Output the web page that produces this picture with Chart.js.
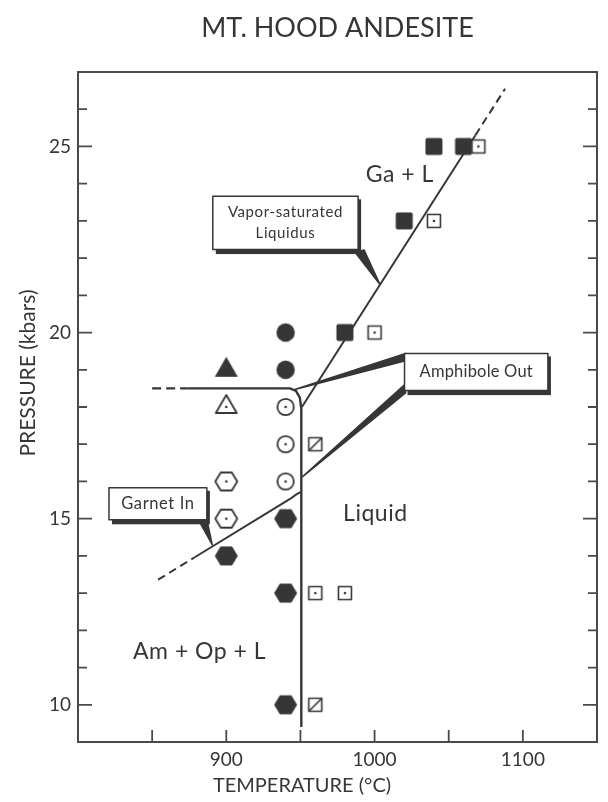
<!DOCTYPE html>
<html>
<head>
<meta charset="utf-8">
<script src="https://cdn.jsdelivr.net/npm/chart.js@4.4.0/dist/chart.umd.min.js"></script>
<style>
  html, body { margin: 0; padding: 0; background: #fff; }
</style>
</head>
<body>
<canvas id="myChart" width="608" height="802"></canvas>
<script>
// 軸の目盛り
const tempLabels = [900, 1000, 1100];
const pressureLabels = [10, 15, 20, 25];

// 実験点 [温度 °C, 圧力 kbar]
const fullCircle = [[940, 20], [940, 19]];
const fullTriangle = [[900, 19]];
const openTriangle = [[900, 18]];
const openCircle = [[940, 18], [940, 17], [940, 16]];
const openHexagon = [[900, 16], [900, 15]];
const fullHexagon = [[900, 14], [940, 15], [940, 13], [940, 10]];
const fullSquare = [[980, 20], [1020, 23], [1040, 25], [1060, 25]];
const openSquare = [[1000, 20], [1040, 23], [1070, 25], [960, 13], [980, 13]];
const slashSquare = [[960, 17], [960, 10]];

// 相境界線
const liquidusSolid = [[951, 18.0], [1068, 25.3]];
const liquidusDashed = [[1068, 25.3], [1088, 26.55]];
const amphiboleDashed = [[850, 18.5], [874, 18.5]];
const amphiboleSolid = [[874, 18.5], [943, 18.5], [947, 18.43], [949.6, 18.25], [950.6, 17.95], [950.6, 9.4]];
const garnetDashed = [[854, 13.36], [879, 13.97]];
const garnetSolid = [[879, 13.97], [943, 15.53], [947.5, 15.66], [950.6, 15.72]];

const INK = "#363636";
const FONT = "Lato, 'Open Sans', sans-serif";

// 領域ラベル
const regionLabels = [
  { text: "Ga + L", t: 1017, p: 24.25 },
  { text: "Liquid", t: 1000.5, p: 15.13 },
  { text: "Am + Op + L", t: 882, p: 11.42 },
];

// 吹き出し（データ座標）
const callouts = [
  {
    lines: ["Vapor-saturated", "Liquidus"], size: 15, spacing: 0.6,
    box: [890.9, 988.9, 23.66, 22.23],
    pointers: [{ base: [[987, 22.15], [992.9, 22.22]], tip: [1003.5, 21.3] }],
  },
  {
    lines: ["Garnet In"], size: 16.5, spacing: 0.6,
    box: [820.9, 886.9, 15.83, 14.97],
    pointers: [{ base: [[881.5, 14.95], [886.9, 14.98]], tip: [890.5, 14.3] }],
  },
  {
    lines: ["Amphibole Out"], size: 16.5, spacing: 0.2,
    box: [1020.2, 1116.9, 19.44, 18.44],
    pointers: [
      { base: [[1020.9, 19.44], [1020.9, 19.24]], tip: [946.2, 18.47] },
      { base: [[1020.9, 18.62], [1020.9, 18.38]], tip: [951.5, 16.13] },
    ],
  },
];

function toXY(list) {
  return list.map(([x, y]) => ({ x: x, y: y }));
}

// マーカー画像を作る
function marker(kind) {
  const c = document.createElement("canvas");
  c.width = 30;
  c.height = 30;
  const g = c.getContext("2d");
  const m = 15;
  g.fillStyle = INK;
  g.strokeStyle = INK;
  g.lineWidth = 1.8;
  g.lineJoin = "round";
  const dot = () => {
    g.fillStyle = INK;
    g.beginPath();
    g.arc(m, m, 1.3, 0, Math.PI * 2);
    g.fill();
  };
  const hex = (w, h) => {
    g.beginPath();
    g.moveTo(m - w / 2, m);
    g.lineTo(m - w / 4, m - h / 2);
    g.lineTo(m + w / 4, m - h / 2);
    g.lineTo(m + w / 2, m);
    g.lineTo(m + w / 4, m + h / 2);
    g.lineTo(m - w / 4, m + h / 2);
    g.closePath();
  };
  const openFill = () => {
    g.fillStyle = "#fff";
    g.fill();
    g.stroke();
  };
  switch (kind) {
    case "disc":
      g.beginPath();
      g.arc(m, m, 9.2, 0, Math.PI * 2);
      g.fill();
      break;
    case "ring":
      g.beginPath();
      g.arc(m, m, 8.2, 0, Math.PI * 2);
      openFill();
      dot();
      break;
    case "tri":
      g.beginPath();
      g.moveTo(m, m - 13);
      g.lineTo(m + 11.5, m + 7);
      g.lineTo(m - 11.5, m + 7);
      g.closePath();
      g.fill();
      break;
    case "triOpen":
      g.beginPath();
      g.moveTo(m, m - 12);
      g.lineTo(m + 10.5, m + 6);
      g.lineTo(m - 10.5, m + 6);
      g.closePath();
      openFill();
      dot();
      break;
    case "hex":
      hex(23, 19);
      g.fill();
      break;
    case "hexOpen":
      hex(22, 18);
      openFill();
      dot();
      break;
    case "square":
      g.beginPath();
      g.roundRect(m - 8.5, m - 8.5, 17, 17, 2);
      g.fill();
      break;
    case "squareDot":
      g.lineWidth = 1.6;
      g.beginPath();
      g.rect(m - 6.5, m - 6.5, 13, 13);
      openFill();
      dot();
      break;
    case "squareSlash":
      g.lineWidth = 1.6;
      g.beginPath();
      g.rect(m - 6.5, m - 6.5, 13, 13);
      openFill();
      g.beginPath();
      g.moveTo(m - 6.5, m + 6.5);
      g.lineTo(m + 6.5, m - 6.5);
      g.stroke();
      break;
  }
  return c;
}

function points(list, kind) {
  return {
    data: toXY(list),
    pointStyle: marker(kind),
    pointRadius: 10,
    showLine: false,
  };
}

function line(list, dash, width) {
  return {
    data: toXY(list),
    showLine: true,
    pointRadius: 0,
    borderColor: INK,
    borderWidth: width || 2.2,
    borderDash: dash || [],
    borderCapStyle: "butt",
    fill: false,
  };
}

// 枠・内向きの目盛り・ラベル・吹き出しを描く
const decorPlugin = {
  id: "decor",
  afterDatasetsDraw(chart) {
    const ctx = chart.ctx;
    const { left, right, top, bottom } = chart.chartArea;
    const xs = chart.scales.x;
    const ys = chart.scales.y;
    const px = (t) => xs.getPixelForValue(t);
    const py = (p) => ys.getPixelForValue(p);

    ctx.save();
    ctx.strokeStyle = "#4a4a4a";
    ctx.lineWidth = 2;
    ctx.strokeRect(left, top, right - left, bottom - top);

    ctx.lineWidth = 1.8;
    ys.ticks.forEach((t) => {
      if (t.value <= ys.min || t.value >= ys.max) return;
      const y = py(t.value);
      const len = pressureLabels.includes(t.value) ? 14 : 9;
      ctx.beginPath();
      ctx.moveTo(left, y);
      ctx.lineTo(left + len, y);
      ctx.moveTo(right, y);
      ctx.lineTo(right - len, y);
      ctx.stroke();
    });
    xs.ticks.forEach((t) => {
      if (t.value <= xs.min || t.value >= xs.max) return;
      const x = px(t.value);
      ctx.beginPath();
      ctx.moveTo(x, bottom);
      ctx.lineTo(x, bottom - 12);
      ctx.stroke();
    });

    // 軸タイトル
    ctx.fillStyle = INK;
    ctx.font = "20px " + FONT;
    ctx.textAlign = "center";
    ctx.textBaseline = "middle";
    ctx.fillText("TEMPERATURE (°C)", 302, 786);
    ctx.save();
    ctx.translate(28, 373);
    ctx.rotate(-Math.PI / 2);
    ctx.font = "21px " + FONT;
    ctx.fillText("PRESSURE (kbars)", 0, 0);
    ctx.restore();

    // 領域ラベル
    ctx.font = "23px " + FONT;
    ctx.letterSpacing = "0.5px";
    regionLabels.forEach((r) => {
      ctx.fillText(r.text, px(r.t), py(r.p));
    });

    // 吹き出し
    callouts.forEach((c) => {
      ctx.fillStyle = INK;
      ctx.strokeStyle = INK;
      ctx.lineWidth = 1.5;
      ctx.lineJoin = "round";
      c.pointers.forEach((p) => {
        ctx.beginPath();
        ctx.moveTo(px(p.base[0][0]), py(p.base[0][1]));
        ctx.lineTo(px(p.tip[0]), py(p.tip[1]));
        ctx.lineTo(px(p.base[1][0]), py(p.base[1][1]));
        ctx.closePath();
        ctx.fill();
        ctx.stroke();
      });
      const x0 = px(c.box[0]);
      const x1 = px(c.box[1]);
      const y0 = py(c.box[2]);
      const y1 = py(c.box[3]);
      ctx.fillRect(x0 + 3, y0 + 3, x1 - x0, y1 - y0 + 1.5);
      ctx.fillStyle = "#fff";
      ctx.fillRect(x0, y0, x1 - x0, y1 - y0);
      ctx.strokeRect(x0, y0, x1 - x0, y1 - y0);
      ctx.fillStyle = INK;
      ctx.font = c.size + "px " + FONT;
      ctx.letterSpacing = c.spacing + "px";
      const lh = 21;
      const cy = (y0 + y1) / 2 - ((c.lines.length - 1) * lh) / 2;
      c.lines.forEach((s, i) => {
        ctx.fillText(s, (x0 + x1) / 2, cy + i * lh);
      });
    });
    ctx.restore();
  },
};

const datasets = [
  points(fullCircle, "disc"),
  points(fullTriangle, "tri"),
  points(openTriangle, "triOpen"),
  points(openCircle, "ring"),
  points(openHexagon, "hexOpen"),
  points(fullHexagon, "hex"),
  points(fullSquare, "square"),
  points(openSquare, "squareDot"),
  points(slashSquare, "squareSlash"),
  line(liquidusSolid, [], 2),
  line(liquidusDashed, [8, 5], 2),
  line(amphiboleDashed, [9, 5], 2.4),
  line(amphiboleSolid, [], 2.4),
  line(garnetDashed, [8, 5], 2),
  line(garnetSolid, [], 2),
];

new Chart(document.getElementById("myChart"), {
  type: "scatter",
  data: { datasets: datasets },
  plugins: [decorPlugin],
  options: {
    responsive: false,
    animation: false,
    layout: { padding: { left: 0, right: 8, top: 0, bottom: 0 } },
    plugins: {
      legend: { display: false },
      tooltip: { enabled: false },
      title: {
        display: true,
        text: "MT. HOOD ANDESITE",
        fullSize: false,
        color: INK,
        font: { family: FONT, size: 27, weight: "normal", lineHeight: 1.2 },
        padding: { top: 12, bottom: 27.6 },
      },
    },
    scales: {
      x: {
        type: "linear",
        min: 800,
        max: 1150,
        afterFit: (s) => {
          s.height = 60;
        },
        grid: { display: false, drawTicks: false },
        border: { display: false },
        ticks: {
          stepSize: 50,
          autoSkip: false,
          maxRotation: 0,
          padding: 6,
          color: INK,
          font: { family: FONT, size: 19 },
          callback: (v) => (tempLabels.includes(v) ? String(v) : ""),
        },
      },
      y: {
        type: "linear",
        min: 9,
        max: 27,
        afterFit: (s) => {
          s.width = 78;
        },
        grid: { display: false, drawTicks: false },
        border: { display: false },
        ticks: {
          stepSize: 1,
          autoSkip: false,
          padding: 7,
          color: INK,
          font: { family: FONT, size: 19 },
          callback: (v) => (pressureLabels.includes(v) ? String(v) : ""),
        },
      },
    },
  },
});
</script>
</body>
</html>
